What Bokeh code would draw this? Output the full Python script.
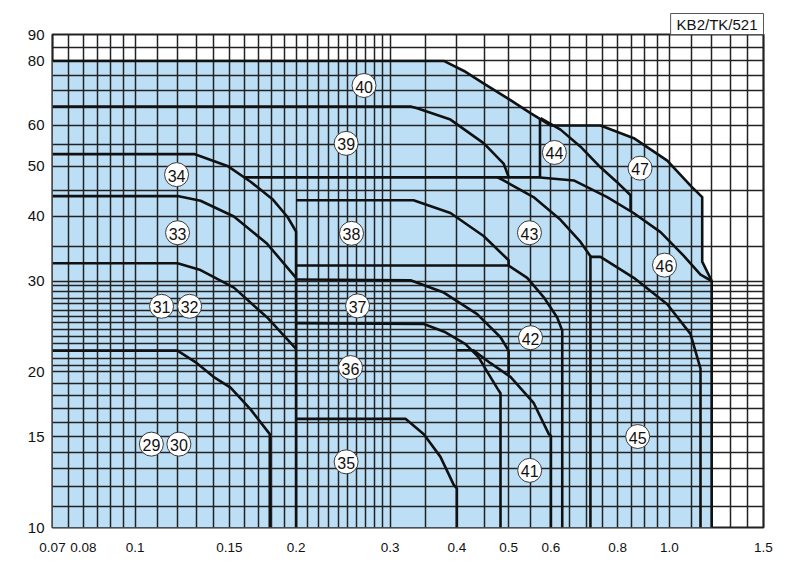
from bokeh.plotting import figure
from bokeh.models import Range1d, FixedTicker, Title, ColumnDataSource
from bokeh.embed import file_html
from bokeh.resources import INLINE
from bokeh.core.properties import value

# ---------------- axes ----------------
x_ticks = [0.07, 0.08, 0.1, 0.15, 0.2, 0.3, 0.4, 0.5, 0.6, 0.8, 1.0, 1.5]
x_tick_labels = ["0.07", "0.08", "0.1", "0.15", "0.2", "0.3", "0.4", "0.5", "0.6", "0.8", "1.0", "1.5"]
y_ticks = [10, 15, 20, 30, 40, 50, 60, 80, 90]
y_tick_labels = ["10", "15", "20", "30", "40", "50", "60", "80", "90"]

x_grid = [0.075, 0.08, 0.085, 0.09, 0.095, 0.1, 0.11, 0.12, 0.13, 0.14, 0.15, 0.16, 0.17,
          0.18, 0.19, 0.2, 0.21, 0.22, 0.23, 0.24, 0.25, 0.26, 0.27, 0.28, 0.29, 0.3, 0.35,
          0.4, 0.45, 0.5, 0.55, 0.6, 0.65, 0.7, 0.75, 0.8, 0.85, 0.9, 0.95, 1.0, 1.1, 1.2,
          1.3, 1.4]
y_grid = [11, 12, 13, 14, 15, 16, 17, 18, 19, 20,
          20.6, 21.2, 22.0, 22.7, 23.4, 24.2, 24.9, 25.6, 26.3, 27.1, 27.8, 28.6, 29.35,
          30, 35, 40, 45, 50, 55, 60, 65, 70, 75, 80, 85]

# ---------------- boundary curves (flow m3/min, head m) ----------------
curves = {
    "29-30": ([0.07, 0.12, 0.1296, 0.1401, 0.1508, 0.1644, 0.1786, 0.1786],
              [22.0, 22.0, 20.9, 19.57, 18.65, 16.93, 15.16, 10]),
    "31-32": ([0.07, 0.12, 0.1325, 0.153, 0.1766, 0.2],
              [32.46, 32.46, 31.5, 29.13, 25.5, 22.17]),
    "33": ([0.07, 0.12, 0.1325, 0.153, 0.1766, 0.2],
           [43.8, 43.8, 42.9, 40.0, 35.4, 30.43]),
    "34": ([0.07, 0.1293, 0.1488, 0.1644, 0.1807, 0.1928, 0.2, 0.2],
           [52.8, 52.8, 50.1, 46.7, 43.2, 39.9, 37.4, 10]),
    "35": ([0.2, 0.3205, 0.3469, 0.3727, 0.3947, 0.4, 0.4],
           [16.23, 16.23, 15.16, 13.7, 12.09, 11.9, 10]),
    "36": ([0.2, 0.3469, 0.3809, 0.4152, 0.4391, 0.4584, 0.4766, 0.4828, 0.4828],
           [24.87, 24.76, 23.87, 22.64, 21.37, 19.83, 18.57, 18.19, 10]),
    "37": ([0.2, 0.3276, 0.3781, 0.4366, 0.4828, 0.5, 0.5],
           [30.2, 30.1, 28.49, 25.88, 23.35, 22.0, 19.77]),
    "38": ([0.2, 0.3318, 0.3891, 0.4488, 0.5, 0.5, 0.2],
           [43.0, 43.0, 40.62, 36.67, 32.9, 32.14, 32.14]),
    "39": ([0.07, 0.3276, 0.3371, 0.3891, 0.4494, 0.4897, 0.5004],
           [65.3, 65.3, 64.8, 61.6, 55.4, 50.55, 47.6]),
    "40": ([0.07, 0.3781, 0.4125, 0.4494, 0.504, 0.5494, 0.5989],
           [80, 80, 76.5, 72.3, 67.2, 63.4, 60.0]),
    "41": ([0.3994, 0.4297, 0.4624, 0.504, 0.5573, 0.5946, 0.6, 0.6],
           [22.04, 22.04, 20.8, 19.57, 17.4, 15.16, 15.05, 10]),
    "42": ([0.5, 0.5417, 0.5819, 0.6164, 0.630, 0.630],
           [32.14, 30.43, 27.9, 25.5, 24.05, 10]),
    "43 top": ([0.1603, 0.5724], [47.6, 47.6]),
    "43": ([0.4766, 0.4891, 0.5566, 0.6253, 0.6816, 0.7114, 0.7114],
           [47.6, 46.96, 43.6, 39.4, 35.7, 33.5, 10]),
    "44 box": ([0.5724, 0.5724], [61.8, 47.6]),
    "44": ([0.5737, 0.6253, 0.6816, 0.7429, 0.7981, 0.8457, 0.8457],
           [62.0, 58.9, 54.6, 49.8, 46.6, 43.96, 41.0]),
    "45": ([0.7114, 0.7429, 0.8577, 0.9906, 1.0949, 1.127, 1.1433, 1.1433],
           [33.4, 33.4, 30.43, 27.05, 23.7, 21.37, 20.3, 10]),
    "46": ([0.5724, 0.6621, 0.7647, 0.8566, 0.9624, 1.0627, 1.1433, 1.2],
           [47.6, 46.96, 43.6, 40.62, 37.3, 33.6, 30.87, 30.0]),
    "47": ([0.5989, 0.7429, 0.8577, 0.9906, 1.0996, 1.1517, 1.1517, 1.2, 1.2],
           [60, 60, 56.7, 51.3, 45.7, 43.6, 32.7, 30, 10]),
}

# ---------------- model number markers ----------------
lab_text = ["29", "30", "31", "32", "33", "34", "35", "36", "37", "38", "39", "40",
            "41", "42", "43", "44", "45", "46", "47"]
lab_x = [0.1072, 0.1207, 0.112, 0.1264, 0.12, 0.1195, 0.2482, 0.2529, 0.2607, 0.254,
         0.2482, 0.2681, 0.5475, 0.5495, 0.547, 0.609, 0.872, 0.979, 0.881]
lab_y = [14.5, 14.5, 26.8, 26.8, 37.2, 48.2, 13.4, 20.4, 26.85, 37.1,
         55.4, 71.7, 12.9, 23.3, 37.2, 53.2, 15.0, 32.2, 49.6]

FILL = "#BCDFF6"
INK = "#111111"

p = figure(width=790, height=565, x_axis_type="log", y_axis_type="log",
           x_range=Range1d(0.07, 1.5), y_range=Range1d(10, 90),
           output_backend="svg", toolbar_location=None,
           min_border_left=52, min_border_right=27, min_border_top=34, min_border_bottom=38)
p.background_fill_color = "white"
p.border_fill_color = "white"
p.outline_line_color = "#222222"
p.outline_line_width = 2.2

# blue fill: outer envelope formed by curve 40 and curve 47
env_x = curves["40"][0] + curves["47"][0] + [0.07]
env_y = curves["40"][1] + curves["47"][1] + [10]
p.patch(env_x, env_y, fill_color=FILL, line_color=None, level="image")

# grid
for g, vals in ((p.xgrid, x_grid), (p.ygrid, y_grid)):
    g.ticker = FixedTicker(ticks=vals)
    g.grid_line_color = "#222222"
    g.grid_line_width = 1.5
    g.grid_line_alpha = 1.0
    g.level = "underlay"

# boundary curves
for name, (xs, ys) in curves.items():
    p.line(xs, ys, line_color=INK, line_width=2.6, line_join="round")

# model markers
src = ColumnDataSource(dict(x=lab_x, y=lab_y, t=lab_text))
p.scatter("x", "y", source=src, size=24, marker="circle", fill_color="white",
          line_color="#3a3a3a", line_width=1.0)
p.text("x", "y", text="t", source=src, text_align="center", text_baseline="middle",
       text_font=value("Liberation Sans"), text_font_size="16px", text_color="#111111",
       y_offset=1)

# axes
for axis, ticks, labels in ((p.xaxis[0], x_ticks, x_tick_labels), (p.yaxis[0], y_ticks, y_tick_labels)):
    axis.ticker = FixedTicker(ticks=ticks)
    axis.major_label_overrides = {t: l for t, l in zip(ticks, labels)}
    axis.axis_line_color = None
    axis.major_tick_line_color = None
    axis.minor_tick_line_color = None
    axis.major_label_text_font = "Liberation Sans"
    axis.major_label_text_color = "#111111"
p.xaxis.major_label_text_font_size = "13.5px"
p.yaxis.major_label_text_font_size = "15px"
p.xaxis.major_label_standoff = 9
p.yaxis.major_label_standoff = 2

# catalogue code box (placed in the panel above the frame)
code_box = Title(text="KB2/TK/521", align="right", text_font="Liberation Sans",
                 text_font_size="15px", text_font_style="normal", text_color="#111111",
                 border_line_color="#555555", border_line_width=1,
                 background_fill_color="white", standoff=0, offset=0)
_pad_set = False
for cand in ((6, 2), [6, 2], (6, 6, 2, 2), dict(left=6, right=6, top=2, bottom=2)):
    try:
        code_box.padding = cand
        _pad_set = True
        break
    except Exception:
        pass
if not _pad_set:
    code_box.padding = 3
p.add_layout(code_box, "above")

open("out.html", "w").write(file_html(p, INLINE))
